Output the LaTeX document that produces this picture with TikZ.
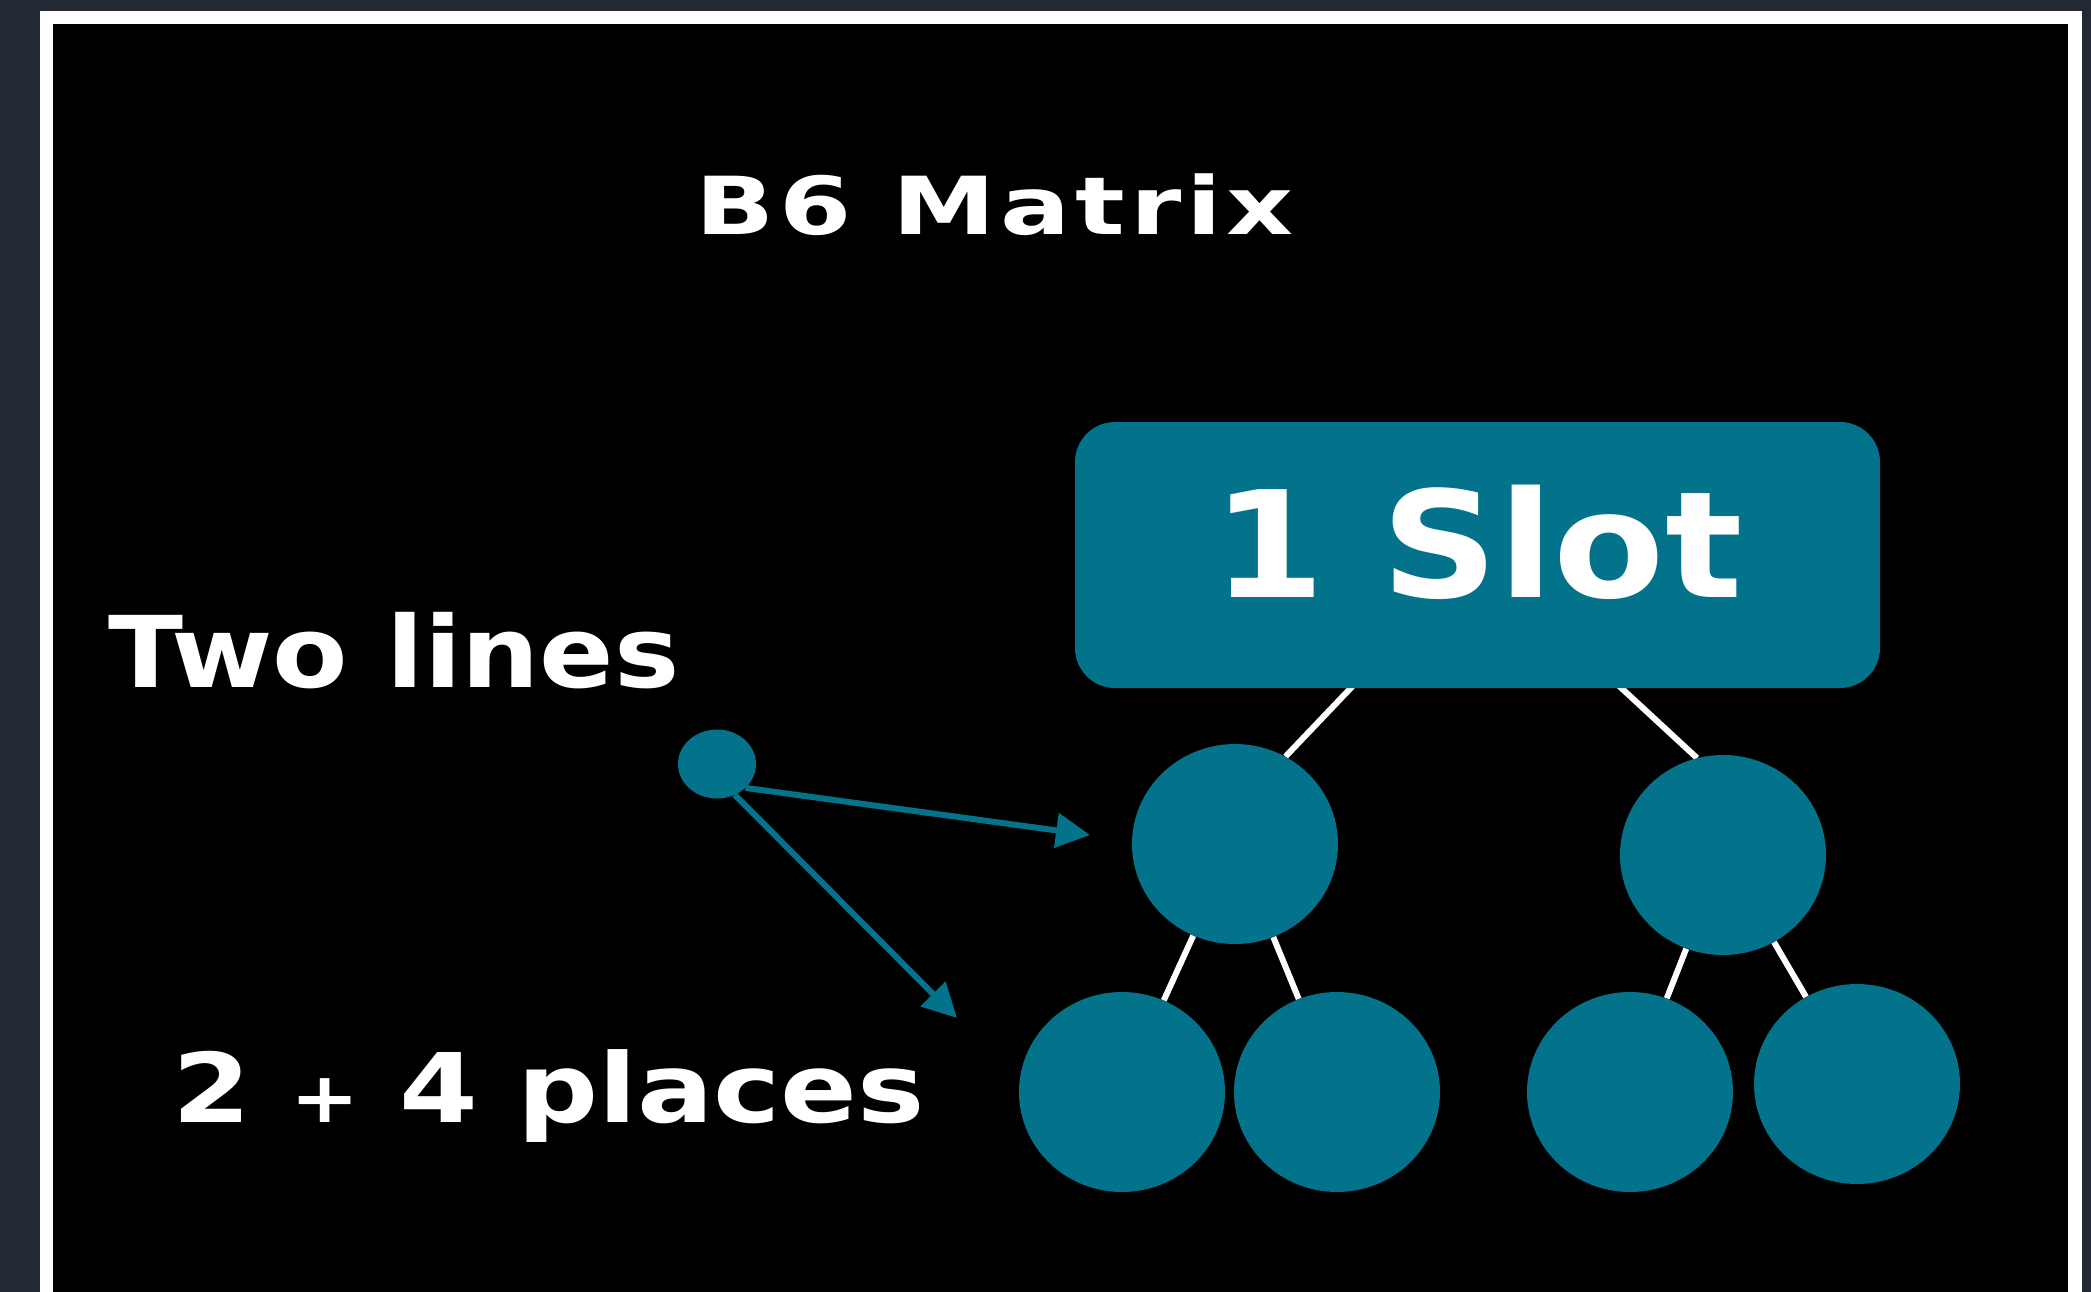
\documentclass[tikz,border=0pt]{standalone}
\usepackage{fontspec}
\setmainfont{DejaVu Sans}
\newfontfamily\ftitle{DejaVu Sans}[FakeStretch=1.3,LetterSpace=6]
\newfontfamily\ftwo{DejaVu Sans}[FakeStretch=1.11]
\newfontfamily\fplaces{DejaVu Sans}[FakeStretch=1.18]
\newfontfamily\fslot{DejaVu Sans}[FakeStretch=1.095]
\usetikzlibrary{arrows.meta,shapes.geometric}
\definecolor{tealc}{HTML}{03738B}
\definecolor{slatec}{HTML}{222834}
\pgfdeclarelayer{back}
\pgfdeclarelayer{edges}
\pgfsetlayers{back,edges,main}
\begin{document}
\begin{tikzpicture}[x=1pt,y=-1pt,
  circ/.style={ellipse, fill=tealc, minimum width=206pt, minimum height=200pt, inner sep=0pt},
  treeedge/.style={draw=white, line width=6pt},
  arr/.style={draw=tealc, line width=6pt, -{Triangle[length=34pt,width=34pt]}},
  lbl/.style={text=white, inner sep=0pt, anchor=base west}]
\useasboundingbox (0,0) rectangle (2091,1292);
\begin{pgfonlayer}{back}
  \fill[slatec] (0,0) rectangle (2091,1292);
  \fill[white] (40,11) rectangle (2082,1292);
  \fill[black] (53,24) rectangle (2068,1292);
\end{pgfonlayer}

% texts
\node[lbl] (title) at (695,234) {\ftitle\bfseries\fontsize{80}{84}\selectfont B6 Matrix};
\node[lbl] (two) at (108,687) {\ftwo\bfseries\fontsize{99}{100}\selectfont Two lines};
\node[lbl] (places) at (172,1122) {\fplaces\bfseries\fontsize{96}{100}\selectfont 2 {\fontsize{70}{70}\selectfont +} 4 places};

% box
\node[fill=tealc, rounded corners=40pt, minimum width=805pt, minimum height=266pt,
      inner sep=0pt, text=white, font=\fslot\bfseries\fontsize{148}{150}\selectfont,
      text height=112pt, text depth=28pt] (box) at (1477.5,555) {1 Slot};

% tree nodes
\node[circ] (A) at (1235,844) {};
\node[circ] (B) at (1723,855) {};
\node[circ] (C) at (1122,1092) {};
\node[circ] (D) at (1337,1092) {};
\node[circ] (E) at (1630,1092) {};
\node[circ] (F) at (1857,1084) {};

% small source node
\node[ellipse, fill=tealc, minimum width=78pt, minimum height=69pt, inner sep=0pt] (S) at (717,764) {};
\coordinate (t1) at (1090,835);
\coordinate (t2) at (957,1018);

\begin{pgfonlayer}{edges}
  \draw[treeedge] (A.60) -- (box.center);
  \draw[treeedge] (B.105) -- (box.center);
  \draw[treeedge] (A) -- (C);
  \draw[treeedge] (A) -- (D);
  \draw[treeedge] (B) -- (E);
  \draw[treeedge] (B) -- (F);
\end{pgfonlayer}

\draw[arr] (S.-40) -- (t1);
\draw[arr] (S.-60) -- (t2);
\end{tikzpicture}
\end{document}
